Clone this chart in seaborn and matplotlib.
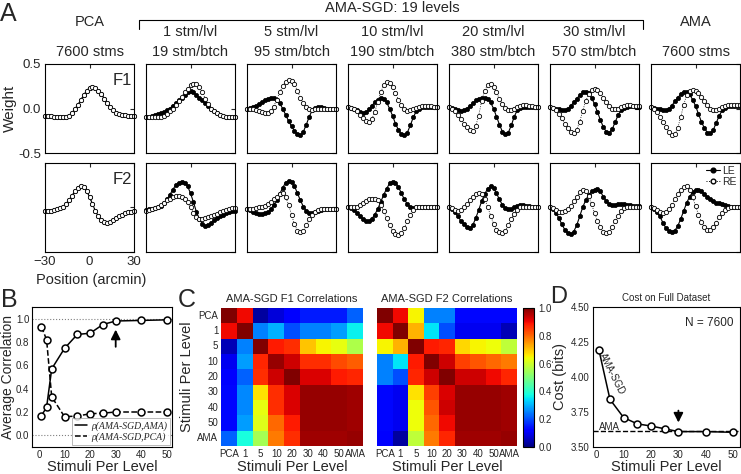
import numpy as np
import matplotlib
matplotlib.use('Agg')
import matplotlib.pyplot as plt
import seaborn as sns
from matplotlib.lines import Line2D

sns.set_style("white")
plt.rcParams['font.family'] = ['Liberation Sans', 'DejaVu Sans']

# ---------------- data ----------------
# panel A: filter weights, position -30..30 arcmin
pos = list(range(-30, 31, 2))

pca_f1 = [-0.08, -0.08, -0.085, -0.09, -0.095, -0.10, -0.10, -0.095, -0.08, -0.05, -0.01, 0.04, 0.09, 0.15, 0.20, 0.235,
          0.245, 0.235, 0.20, 0.16, 0.11, 0.06, 0.02, -0.02, -0.045, -0.06, -0.07, -0.075, -0.08, -0.08, -0.08]
pca_f2 = [-0.04, -0.04, -0.035, -0.03, -0.02, -0.01, 0.01, 0.04, 0.08, 0.13, 0.18, 0.22, 0.24, 0.23, 0.19, 0.12,
          0.04, -0.04, -0.10, -0.14, -0.165, -0.17, -0.16, -0.14, -0.12, -0.10, -0.08, -0.065, -0.05, -0.045, -0.04]

le_f1_1 = [-0.10, -0.09, -0.08, -0.07, -0.06, -0.05, -0.04, -0.02, 0.0, 0.03, 0.06, 0.09, 0.12, 0.15, 0.18, 0.20,
           0.18, 0.15, 0.12, 0.09, 0.06, 0.03, 0.0, -0.03, -0.05, -0.07, -0.08, -0.09, -0.09, -0.09, -0.09]
re_f1_1 = [-0.09, -0.09, -0.10, -0.10, -0.10, -0.09, -0.08, -0.06, -0.03, 0.0, 0.04, 0.08, 0.13, 0.18, 0.22, 0.26,
           0.28, 0.27, 0.24, 0.18, 0.11, 0.05, 0.0, -0.03, -0.05, -0.07, -0.08, -0.09, -0.10, -0.10, -0.10]
le_f1_5 = [0.0, 0.01, 0.02, 0.03, 0.05, 0.07, 0.09, 0.11, 0.12, 0.12, 0.10, 0.06, 0.0, -0.07, -0.14, -0.20,
           -0.25, -0.29, -0.30, -0.26, -0.18, -0.09, -0.02, 0.01, 0.02, 0.02, 0.01, 0.0, 0.0, 0.0, 0.0]
re_f1_5 = [0.0, 0.0, -0.01, -0.02, -0.03, -0.04, -0.05, -0.05, -0.03, 0.02, 0.10, 0.18, 0.25, 0.30, 0.32, 0.31,
           0.27, 0.20, 0.12, 0.06, 0.02, -0.01, -0.02, -0.01, 0.0, 0.0, 0.0, 0.0, 0.0, 0.0, 0.0]
le_f1_10 = [0.02, 0.01, 0.0, -0.02, -0.04, -0.05, -0.04, -0.01, 0.03, 0.07, 0.10, 0.12, 0.11, 0.07, 0.0, -0.08,
            -0.17, -0.24, -0.29, -0.30, -0.27, -0.19, -0.10, -0.03, 0.0, 0.02, 0.02, 0.02, 0.02, 0.02, 0.02]
re_f1_10 = [0.02, 0.01, 0.0, -0.03, -0.07, -0.11, -0.14, -0.15, -0.12, -0.04, 0.07, 0.18, 0.26, 0.30, 0.29, 0.24,
            0.17, 0.10, 0.04, 0.0, -0.03, -0.02, 0.0, 0.01, 0.02, 0.03, 0.03, 0.03, 0.03, 0.02, 0.02]
le_f1_20 = [0.02, 0.01, -0.01, -0.02, -0.03, -0.02, 0.0, 0.03, 0.06, 0.09, 0.11, 0.12, 0.12, 0.11, 0.07, 0.0,
            -0.09, -0.18, -0.26, -0.29, -0.27, -0.19, -0.09, -0.02, 0.01, 0.02, 0.02, 0.02, 0.02, 0.02, 0.02]
re_f1_20 = [0.02, 0.0, -0.03, -0.07, -0.12, -0.17, -0.21, -0.24, -0.25, -0.20, -0.08, 0.08, 0.20, 0.26, 0.27, 0.24,
            0.18, 0.11, 0.05, 0.01, -0.02, -0.02, 0.0, 0.02, 0.03, 0.04, 0.04, 0.03, 0.03, 0.02, 0.02]
le_f1_30 = [0.02, 0.01, 0.0, -0.01, -0.02, -0.02, 0.0, 0.03, 0.07, 0.11, 0.15, 0.18, 0.19, 0.17, 0.12, 0.05,
            -0.04, -0.13, -0.21, -0.26, -0.27, -0.23, -0.15, -0.07, -0.02, 0.01, 0.02, 0.03, 0.03, 0.02, 0.02]
re_f1_30 = [0.02, 0.01, -0.02, -0.06, -0.11, -0.17, -0.22, -0.26, -0.27, -0.24, -0.15, -0.03, 0.08, 0.16, 0.21, 0.22,
            0.21, 0.17, 0.12, 0.07, 0.03, 0.0, -0.01, 0.0, 0.02, 0.03, 0.04, 0.04, 0.03, 0.03, 0.03]
le_f1_ama = [0.02, 0.01, 0.0, -0.01, -0.02, -0.02, 0.0, 0.03, 0.08, 0.12, 0.16, 0.19, 0.19, 0.16, 0.10, 0.03,
             -0.06, -0.15, -0.22, -0.27, -0.28, -0.24, -0.16, -0.08, -0.02, 0.01, 0.03, 0.03, 0.03, 0.03, 0.03]
re_f1_ama = [0.02, 0.0, -0.04, -0.09, -0.15, -0.21, -0.26, -0.30, -0.29, -0.22, -0.10, 0.04, 0.15, 0.20, 0.21, 0.20,
             0.17, 0.13, 0.08, 0.04, 0.0, -0.02, -0.02, 0.0, 0.02, 0.03, 0.04, 0.04, 0.04, 0.04, 0.04]

le_f2_1 = [-0.03, -0.02, -0.02, -0.01, 0.0, 0.02, 0.05, 0.09, 0.14, 0.20, 0.25, 0.28, 0.29, 0.28, 0.24, 0.16,
           0.06, -0.05, -0.13, -0.18, -0.21, -0.20, -0.17, -0.14, -0.12, -0.10, -0.08, -0.06, -0.05, -0.04, -0.04]
re_f2_1 = [-0.04, -0.03, -0.02, -0.01, 0.01, 0.03, 0.05, 0.08, 0.10, 0.12, 0.13, 0.13, 0.12, 0.10, 0.06, 0.0,
           -0.06, -0.11, -0.13, -0.13, -0.12, -0.11, -0.10, -0.08, -0.07, -0.05, -0.04, -0.03, -0.02, -0.01, -0.01]
le_f2_5 = [-0.02, -0.03, -0.05, -0.06, -0.07, -0.07, -0.06, -0.05, -0.02, 0.03, 0.08, 0.15, 0.22, 0.28, 0.30, 0.29,
           0.24, 0.16, 0.08, 0.01, -0.04, -0.06, -0.06, -0.05, -0.04, -0.03, -0.02, -0.02, -0.02, -0.02, -0.02]
re_f2_5 = [-0.02, -0.02, -0.02, -0.01, 0.0, 0.01, 0.02, 0.04, 0.06, 0.09, 0.12, 0.15, 0.16, 0.12, 0.03, -0.08,
           -0.19, -0.26, -0.28, -0.26, -0.20, -0.13, -0.08, -0.05, -0.03, -0.02, -0.02, -0.02, -0.02, -0.02, -0.02]
le_f2_10 = [0.0, -0.01, -0.03, -0.06, -0.10, -0.13, -0.15, -0.15, -0.13, -0.08, -0.02, 0.06, 0.14, 0.21, 0.27, 0.29,
            0.28, 0.23, 0.16, 0.09, 0.04, 0.01, -0.01, 0.0, 0.01, 0.01, 0.01, 0.01, 0.01, 0.01, 0.01]
re_f2_10 = [0.01, 0.0, 0.0, 0.01, 0.03, 0.05, 0.07, 0.09, 0.10, 0.10, 0.08, 0.03, -0.04, -0.12, -0.20, -0.26,
            -0.30, -0.31, -0.29, -0.23, -0.15, -0.08, -0.03, 0.0, 0.01, 0.01, 0.01, 0.01, 0.01, 0.01, 0.01]
le_f2_20 = [0.0, -0.02, -0.05, -0.10, -0.15, -0.19, -0.22, -0.23, -0.20, -0.12, -0.03, 0.07, 0.15, 0.21, 0.24, 0.22,
            0.16, 0.09, 0.03, -0.01, -0.02, -0.02, 0.0, 0.02, 0.03, 0.03, 0.02, 0.02, 0.01, 0.01, 0.0]
re_f2_20 = [0.0, -0.01, -0.03, -0.04, -0.03, 0.0, 0.04, 0.08, 0.12, 0.15, 0.16, 0.15, 0.10, 0.01, -0.09, -0.18,
            -0.25, -0.28, -0.29, -0.26, -0.20, -0.13, -0.07, -0.03, 0.0, 0.01, 0.01, 0.01, 0.01, 0.0, 0.0]
le_f2_30 = [0.0, -0.02, -0.06, -0.12, -0.19, -0.25, -0.29, -0.30, -0.27, -0.20, -0.10, 0.0, 0.08, 0.14, 0.18, 0.20,
            0.21, 0.18, 0.12, 0.07, 0.04, 0.03, 0.03, 0.04, 0.04, 0.04, 0.03, 0.03, 0.02, 0.02, 0.02]
re_f2_30 = [0.0, -0.01, -0.03, -0.05, -0.05, -0.04, -0.02, 0.02, 0.07, 0.12, 0.17, 0.20, 0.19, 0.13, 0.04, -0.06,
            -0.15, -0.22, -0.27, -0.29, -0.27, -0.22, -0.15, -0.09, -0.04, -0.01, 0.01, 0.01, 0.01, 0.01, 0.01]
le_f2_ama = [0.0, -0.02, -0.05, -0.10, -0.17, -0.23, -0.26, -0.27, -0.26, -0.21, -0.13, -0.04, 0.05, 0.12, 0.17, 0.20,
             0.20, 0.18, 0.15, 0.12, 0.10, 0.07, 0.05, 0.05, 0.04, 0.03, 0.02, 0.01, 0.0, 0.0, 0.0]
re_f2_ama = [0.0, -0.01, -0.03, -0.05, -0.06, -0.05, -0.02, 0.03, 0.09, 0.15, 0.20, 0.23, 0.24, 0.20, 0.12, 0.02,
             -0.08, -0.16, -0.22, -0.25, -0.25, -0.22, -0.17, -0.11, -0.06, -0.03, -0.01, 0.0, 0.0, 0.0, 0.0]

col_top = ['PCA', '1 stm/lvl', '5 stm/lvl', '10 stm/lvl', '20 stm/lvl', '30 stm/lvl', 'AMA']
col_bottom = ['7600 stms', '19 stm/btch', '95 stm/btch', '190 stm/btch', '380 stm/btch', '570 stm/btch', '7600 stms']

# panel B
spl_b = [1, 3, 5, 10, 15, 20, 25, 30, 40, 50]
corr_ama = [0.17, 0.24, 0.57, 0.745, 0.865, 0.875, 0.95, 0.98, 0.985, 0.99]
corr_pca = [0.93, 0.82, 0.33, 0.16, 0.165, 0.185, 0.19, 0.20, 0.20, 0.20]

# panel C
levels = ['PCA', '1', '5', '10', '20', '30', '40', '50', 'AMA']
f1_corr = [[1.00, 0.90, 0.03, 0.08, 0.12, 0.15, 0.15, 0.15, 0.22],
           [0.90, 1.00, 0.25, 0.30, 0.20, 0.25, 0.25, 0.28, 0.36],
           [0.05, 0.25, 1.00, 0.88, 0.86, 0.70, 0.65, 0.63, 0.56],
           [0.10, 0.28, 0.87, 0.98, 0.93, 0.86, 0.86, 0.83, 0.81],
           [0.12, 0.22, 0.86, 0.93, 1.00, 0.92, 0.92, 0.88, 0.87],
           [0.13, 0.26, 0.67, 0.86, 0.92, 0.98, 0.98, 0.98, 0.97],
           [0.13, 0.26, 0.63, 0.86, 0.92, 0.98, 0.98, 0.98, 0.97],
           [0.13, 0.28, 0.62, 0.80, 0.88, 0.98, 0.98, 0.98, 0.97],
           [0.22, 0.38, 0.55, 0.78, 0.86, 0.97, 0.97, 0.97, 0.98]]
f2_corr = [[1.00, 0.90, 0.65, 0.25, 0.25, 0.13, 0.13, 0.13, 0.13],
           [0.90, 1.00, 0.72, 0.35, 0.20, 0.10, 0.10, 0.10, 0.05],
           [0.65, 0.72, 1.00, 0.88, 0.87, 0.68, 0.65, 0.64, 0.58],
           [0.25, 0.35, 0.88, 1.00, 0.93, 0.84, 0.82, 0.80, 0.78],
           [0.25, 0.20, 0.87, 0.93, 1.00, 0.93, 0.93, 0.90, 0.87],
           [0.13, 0.10, 0.67, 0.84, 0.92, 0.98, 0.98, 0.98, 0.97],
           [0.13, 0.10, 0.64, 0.82, 0.93, 0.98, 0.98, 0.98, 0.97],
           [0.13, 0.10, 0.64, 0.80, 0.90, 0.98, 0.98, 0.98, 0.97],
           [0.12, 0.03, 0.58, 0.78, 0.87, 0.97, 0.97, 0.97, 0.98]]

# panel D
spl_d = [1, 5, 10, 15, 20, 25, 30, 40, 50]
cost = [4.19, 3.84, 3.71, 3.665, 3.65, 3.63, 3.61, 3.61, 3.605]
ama_cost = 3.613

W, H = 741, 474


def box(l, t, w, h):
    # pixel box (left, top, width, height) -> figure fraction
    return [l / W, 1 - (t + h) / H, w / W, h / H]


def ftext(fig, x, y, s, **kw):
    kw.setdefault('ha', 'center')
    kw.setdefault('va', 'center')
    fig.text(x / W, 1 - y / H, s, **kw)


def frame(ax, lw=0.8):
    for sp in ax.spines.values():
        sp.set_visible(True)
        sp.set_color('k')
        sp.set_linewidth(lw)


def panel_a(fig):
    lefts = [45, 146, 247, 348, 449, 550, 651]
    f1 = [(pca_f1, pca_f1), (le_f1_1, re_f1_1), (le_f1_5, re_f1_5), (le_f1_10, re_f1_10),
          (le_f1_20, re_f1_20), (le_f1_30, re_f1_30), (le_f1_ama, re_f1_ama)]
    f2 = [(pca_f2, pca_f2), (le_f2_1, re_f2_1), (le_f2_5, re_f2_5), (le_f2_10, re_f2_10),
          (le_f2_20, re_f2_20), (le_f2_30, re_f2_30), (le_f2_ama, re_f2_ama)]
    for r, (rows, top) in enumerate([(f1, 64), (f2, 163)]):
        for c in range(7):
            ax = fig.add_axes(box(lefts[c], top, 89, 89))
            le, re = rows[c]
            sns.lineplot(x=pos, y=le, ax=ax, color='k', marker='o', markersize=3.1,
                         markerfacecolor='k', markeredgecolor='k', markeredgewidth=0.5,
                         linewidth=0.8, clip_on=False)
            sns.lineplot(x=pos, y=re, ax=ax, color='k', linestyle=':', marker='o', markersize=3.1,
                         markerfacecolor='w', markeredgecolor='k', markeredgewidth=0.6,
                         linewidth=0.6, clip_on=False)
            ax.set_xlim(-30, 30)
            ax.set_ylim(-0.5, 0.5)
            frame(ax)
            ax.tick_params(direction='in', length=3, top=True, right=True, labelsize=9.5, pad=3)
            if r == 1 and c == 0:
                ax.set_xticks([-30, 0, 30])
            else:
                ax.set_xticks([0])
                ax.set_xticklabels([])
            ax.set_yticks([-0.5, 0.0, 0.5])
            if r == 0 and c == 0:
                ax.set_yticklabels(['-0.5', '0.0', '0.5'])
            else:
                ax.set_yticklabels([])
            ax.set_xlabel('')
            ax.set_ylabel('')
            if c == 0:
                ax.text(0.87, 0.82, 'F1' if r == 0 else 'F2', transform=ax.transAxes,
                        fontsize=12, ha='center', va='center')
            if r == 1 and c == 6:
                hs = [Line2D([0], [0], color='k', marker='o', markersize=3.4, lw=0.8),
                      Line2D([0], [0], color='k', ls=':', marker='o', markersize=3.4,
                             markerfacecolor='w', lw=0.7)]
                ax.legend(hs, ['LE', 'RE'], loc='upper right', frameon=False, fontsize=7.5,
                          handlelength=1.4, handletextpad=0.2, borderaxespad=0.1,
                          labelspacing=0.05, borderpad=0.2)

    centers = [l + 44.5 for l in lefts]
    for c in range(7):
        ytop = 22 if c in (0, 6) else 32
        ftext(fig, centers[c], ytop, col_top[c], fontsize=10.5)
        ftext(fig, centers[c], 52, col_bottom[c], fontsize=10.5)
    ftext(fig, 392, 8, 'AMA-SGD: 19 levels', fontsize=10.5)
    fig.add_artist(Line2D([139 / W, 139 / W, 643 / W, 643 / W],
                          [1 - 29 / H, 1 - 20 / H, 1 - 20 / H, 1 - 29 / H], color='k', lw=0.8))
    ftext(fig, 10, 108, 'Weight', fontsize=11, rotation=90)
    ftext(fig, 91, 280, 'Position (arcmin)', fontsize=10.5)
    ftext(fig, 8, 14, 'A', fontsize=18)


def xlab(fig, x, s):
    # x-axis labels of the lower row sit right at the bottom edge
    fig.text(x / W, 1 - 471 / H, s, fontsize=10.5, ha='center', va='baseline')


def panel_b(fig):
    ax = fig.add_axes(box(32, 307, 140, 140))
    ax.axhline(1.0, color='0.5', ls=':', lw=0.8)
    ax.axhline(0.0, color='0.5', ls=':', lw=0.8)
    sns.lineplot(x=spl_b, y=corr_ama, ax=ax, color='k', marker='o', markersize=5,
                 markerfacecolor='w', markeredgecolor='k', markeredgewidth=1.1, linewidth=1.1)
    sns.lineplot(x=spl_b, y=corr_pca, ax=ax, color='k', linestyle='--', marker='o', markersize=5,
                 markerfacecolor='w', markeredgecolor='k', markeredgewidth=1.1, linewidth=1.1)
    ax.annotate('', xy=(30, 0.93), xytext=(30, 0.735),
                arrowprops=dict(arrowstyle='-|>', color='k', lw=1.3, mutation_scale=14))
    ax.set_xlim(-2.7, 52)
    ax.set_ylim(-0.1, 1.1)
    ax.set_xticks([0, 10, 20, 30, 40, 50])
    ax.set_yticks([0.0, 0.2, 0.4, 0.6, 0.8, 1.0])
    ax.set_yticklabels(['0.0', '0.2', '0.4', '0.6', '0.8', '1.0'])
    frame(ax)
    ax.tick_params(direction='in', length=3, labelsize=7, pad=2)
    ax.set_xlabel('')
    ax.set_ylabel('')
    xlab(fig, 102, 'Stimuli Per Level')
    ftext(fig, 8, 377, 'Average Correlation', fontsize=10, rotation=90)
    hs = [Line2D([0], [0], color='k', lw=1.1), Line2D([0], [0], color='k', lw=1.1, ls='--')]
    leg = ax.legend(hs, ['ρ(AMA-SGD,AMA)', 'ρ(AMA-SGD,PCA)'], loc='lower right',
                    prop={'family': 'Liberation Serif', 'style': 'italic', 'size': 7},
                    handlelength=1.3, handletextpad=0.4, borderpad=0.3, labelspacing=0.2,
                    fancybox=False, borderaxespad=0.2)
    leg.get_frame().set_edgecolor('0.6')
    leg.get_frame().set_linewidth(0.6)
    ftext(fig, 9, 300, 'B', fontsize=18)


def panel_c(fig):
    ax1 = fig.add_axes(box(221, 308, 142, 138))
    ax2 = fig.add_axes(box(377, 308, 140, 138))
    cax = fig.add_axes(box(523, 308, 11, 139))
    sns.heatmap(np.array(f1_corr), ax=ax1, cmap='jet', vmin=0, vmax=1, cbar=False,
                xticklabels=levels, yticklabels=levels)
    sns.heatmap(np.array(f2_corr), ax=ax2, cmap='jet', vmin=0, vmax=1, cbar=True, cbar_ax=cax,
                xticklabels=levels, yticklabels=False)
    for ax, ttl in [(ax1, 'AMA-SGD F1 Correlations'), (ax2, 'AMA-SGD F2 Correlations')]:
        ax.tick_params(length=0, labelsize=7, pad=2)
        ax.set_xticklabels(levels, rotation=0)
        ax.set_title(ttl, fontsize=8, pad=4)
        ax.set_xlabel('')
    ax1.set_yticklabels(levels, rotation=0)
    ax1.set_ylabel('Stimuli Per Level', fontsize=10.5, labelpad=2)
    xlab(fig, 292, 'Stimuli Per Level')
    xlab(fig, 447, 'Stimuli Per Level')
    cb = ax2.collections[0].colorbar
    cb.set_ticks([0.0, 0.2, 0.4, 0.6, 0.8, 1.0])
    cb.set_ticklabels(['0.0', '0.2', '0.4', '0.6', '0.8', '1.0'])
    cb.outline.set_visible(True)
    cb.outline.set_edgecolor('k')
    cb.outline.set_linewidth(0.8)
    cax.tick_params(direction='in', length=2, labelsize=7, pad=3)
    ftext(fig, 187, 300, 'C', fontsize=18)


def panel_d(fig):
    ax = fig.add_axes(box(593, 307, 147, 140))
    ax.axhline(ama_cost, color='k', ls='--', lw=1.0)
    sns.lineplot(x=spl_d, y=cost, ax=ax, color='k', marker='o', markersize=5,
                 markerfacecolor='w', markeredgecolor='k', markeredgewidth=1.1, linewidth=1.1)
    ax.annotate('', xy=(30, 3.655), xytext=(30, 3.78),
                arrowprops=dict(arrowstyle='-|>', color='k', lw=1.3, mutation_scale=14))
    ax.text(1.0, 3.645, 'AMA', fontsize=7, ha='left', va='center')
    ax.text(5.8, 4.02, 'AMA-SGD', fontsize=7, ha='center', va='center', rotation=-63)
    ax.text(0.79, 0.885, 'N = 7600', transform=ax.transAxes, fontsize=8.5, ha='center', va='center')
    ax.set_xlim(-1.2, 52.5)
    ax.set_ylim(3.5, 4.5)
    ax.set_xticks([0, 10, 20, 30, 40, 50])
    ax.set_yticks([3.5, 3.75, 4.0, 4.25, 4.5])
    ax.set_yticklabels(['3.50', '3.75', '4.00', '4.25', '4.50'])
    frame(ax)
    ax.tick_params(direction='in', length=3, labelsize=7, pad=2.5)
    ax.set_title('Cost on Full Dataset', fontsize=7, pad=4)
    ax.set_xlabel('')
    ax.set_ylabel('Cost (bits)', fontsize=10.5, labelpad=3)
    xlab(fig, 666, 'Stimuli Per Level')
    ftext(fig, 559, 297, 'D', fontsize=17)


def main():
    fig = plt.figure(figsize=(W / 100, H / 100), dpi=100)
    panel_a(fig)
    panel_b(fig)
    panel_c(fig)
    panel_d(fig)
    fig.savefig('out.png', dpi=100)


if __name__ == '__main__':
    main()
